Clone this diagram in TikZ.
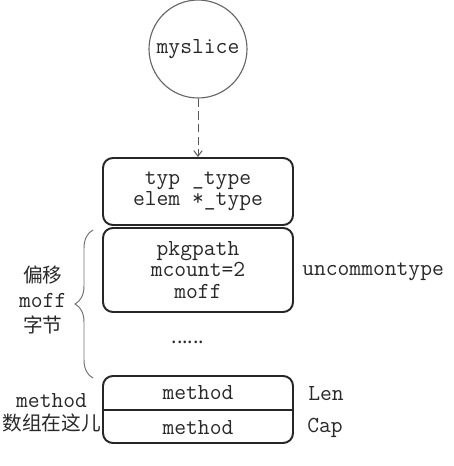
\documentclass[tikz,border=0pt]{standalone}
\usepackage{fontspec}
\newfontfamily\cjk{Noto Sans CJK SC}
\usepackage{tikz}
\usepackage{xcolor}
\usetikzlibrary{arrows.meta, positioning, decorations.pathreplacing}
\definecolor{inkgray}{RGB}{40,40,40}

\begin{document}
\begin{tikzpicture}[
          font=\ttfamily\fontsize{16.3}{15.3}\selectfont,
          text=inkgray,
          ball/.style={
              circle,
              draw=black!60,
              line width=0.8pt,
              minimum size=2.45cm,
              inner sep=0pt
            },
          field/.style={
              draw=black!85,
              rounded corners=7pt,
              line width=1.4pt,
              minimum width=4.75cm,
              align=center
            },
          side/.style={anchor=west, inner sep=0pt},
          ptr/.style={-{Straight Barb[length=4pt,width=6pt]}, black!65, line width=0.7pt, dash pattern=on 6pt off 3pt},
          curly/.style={decorate, decoration={brace, amplitude=0.45cm}, black!55, line width=0.7pt}
        ]
        \useasboundingbox (0,0) rectangle (11.35,-11.65);

        \node[ball] (slice) at (4.95,-1.225) {myslice};

        \node[field, minimum height=1.675cm] (hdr) at (4.95,-4.7875) {typ \_type\\elem *\_type};
        \node[field, minimum height=2.1cm] (unc) at (4.95,-6.75) {pkgpath\\mcount=2\\moff};
        \node[inner sep=0pt] (dots) at (4.7,-8.55) {\cjk\fontsize{14}{14}\selectfont ......};
        \node[field, minimum height=1.675cm] (meth) at (4.95,-10.2375) {};

        \node (m1) at (4.95,-9.825) {method};
        \node (m2) at (4.95,-10.7) {method};
        \draw[black!85, line width=0.8pt] (meth.west |- 0,-10.25) -- (meth.east |- 0,-10.25);

        \node[side] (unclbl) at (7.55,-6.8) {uncommontype};
        \node[side] (len) at (7.7,-9.85) {Len};
        \node[side] (cap) at (7.675,-10.7) {Cap};

        \node[align=center, font=\ttfamily\fontsize{16.3}{17.8}\selectfont] (offlbl) at (1.07,-7.5) {{\cjk\fontsize{14}{17.8}\selectfont 偏移}\\moff\\{\cjk\fontsize{14}{17.8}\selectfont 字节}};
        \node[align=center, font=\ttfamily\fontsize{16.3}{16.4}\selectfont] (arrlbl) at (1.29,-10.31) {method\\{\cjk\fontsize{14}{16.4}\selectfont 数组在这儿}};

        \coordinate (bbot) at (2.325,-9.45);
        \coordinate (btop) at (2.325,-5.75);

        \draw[ptr] (slice) -- (hdr);
        \draw[curly] (bbot) -- (btop);
      \end{tikzpicture}
\end{document}
